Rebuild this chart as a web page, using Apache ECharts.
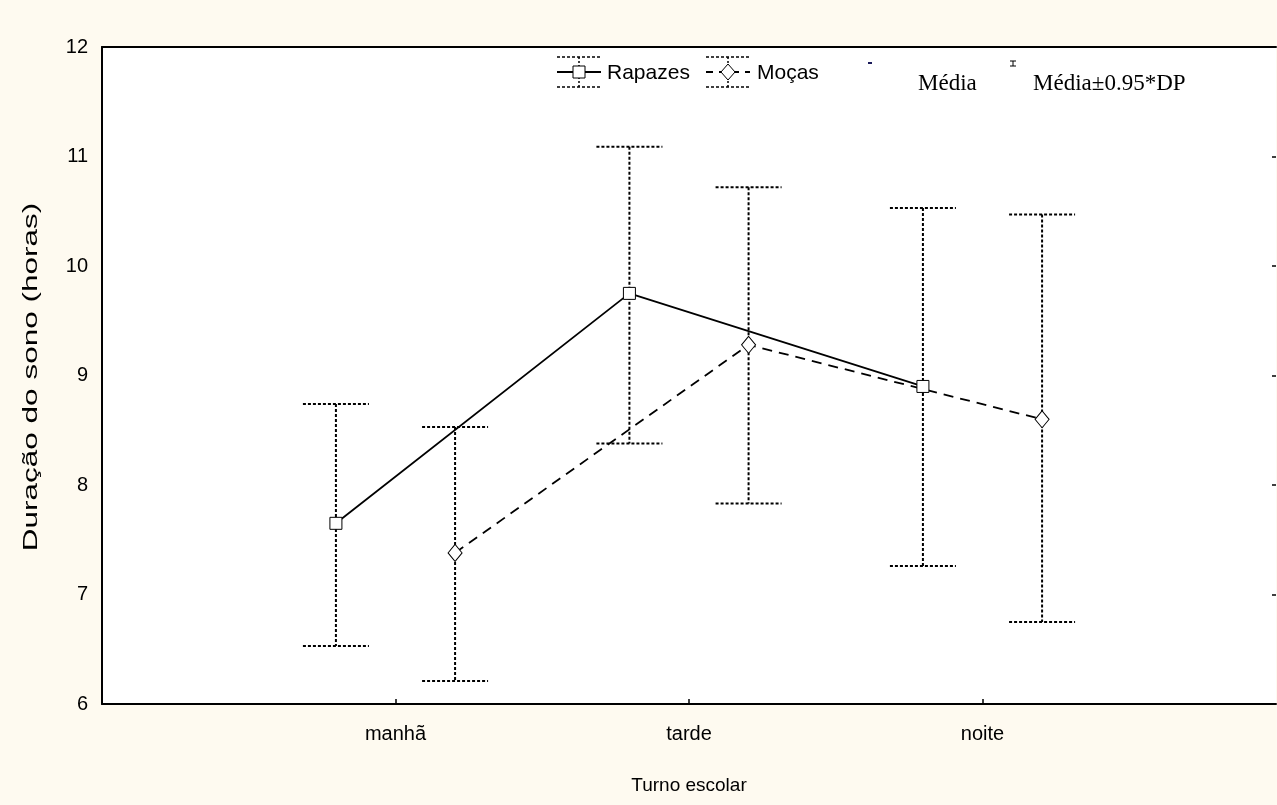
<!DOCTYPE html>
<html>
<head>
<meta charset="utf-8">
<script src="https://cdn.jsdelivr.net/npm/echarts@6/dist/echarts.min.js"></script>
<style>
  html, body { margin: 0; padding: 0; background: #fefaf0; }
  #chart { width: 1277px; height: 805px; }
</style>
</head>
<body>
<div id="chart"></div>
<script>
// Turno escolar categories
const categories = ['manhã', 'tarde', 'noite'];

// Rapazes: média and média ± 0.95*DP
const rapazesMean = [7.65, 9.75, 8.90];
const rapazesLow  = [6.53, 8.38, 7.26];
const rapazesHigh = [8.74, 11.09, 10.53];

// Moças: média and média ± 0.95*DP
const mocasMean = [7.38, 9.28, 8.60];
const mocasLow  = [6.21, 7.83, 6.75];
const mocasHigh = [8.53, 10.72, 10.47];

// Y axis ticks
const yTicks = [6, 7, 8, 9, 10, 11, 12];

// horizontal shift of each group inside its category (axis units)
const OFF_R = -0.203;
const OFF_M = 0.203;

const SANS = '"Liberation Sans", Arial, sans-serif';
const SERIF = '"Liberation Serif", "Times New Roman", serif';

function errorBars(offset) {
  return function (params, api) {
    const i = api.value(0);
    const lo = api.coord([i + offset, api.value(1)]);
    const hi = api.coord([i + offset, api.value(2)]);
    const hw = 33;
    const style = { stroke: '#000', lineWidth: 2, lineDash: [3, 2], fill: null };
    return {
      type: 'group',
      children: [
        { type: 'line', shape: { x1: hi[0], y1: hi[1], x2: lo[0], y2: lo[1] }, style: style },
        { type: 'line', shape: { x1: hi[0] - hw, y1: hi[1], x2: hi[0] + hw, y2: hi[1] }, style: style },
        { type: 'line', shape: { x1: lo[0] - hw, y1: lo[1], x2: lo[0] + hw, y2: lo[1] }, style: style }
      ]
    };
  };
}

const chart = echarts.init(document.getElementById('chart'), null, { renderer: 'canvas' });

const capStyle = { stroke: '#000', lineWidth: 1.5, lineDash: [3, 2] };

// legend and y axis title drawn as graphics
const graphics = [
  // Rapazes icon
  { type: 'line', shape: { x1: 557, y1: 57, x2: 601, y2: 57 }, style: capStyle },
  { type: 'line', shape: { x1: 557, y1: 87, x2: 601, y2: 87 }, style: capStyle },
  { type: 'line', shape: { x1: 579, y1: 57, x2: 579, y2: 87 }, style: { stroke: '#000', lineWidth: 1.5, lineDash: [2, 2] } },
  { type: 'line', shape: { x1: 557, y1: 72, x2: 601, y2: 72 }, style: { stroke: '#000', lineWidth: 1.8 } },
  { type: 'rect', shape: { x: 573, y: 66, width: 12, height: 12 }, style: { fill: '#fff', stroke: '#000', lineWidth: 1 } },
  { type: 'text', x: 607, y: 73, style: { text: 'Rapazes', font: '21px ' + SANS, fill: '#000', verticalAlign: 'middle' } },
  // Moças icon
  { type: 'line', shape: { x1: 706, y1: 57, x2: 750, y2: 57 }, style: capStyle },
  { type: 'line', shape: { x1: 706, y1: 87, x2: 750, y2: 87 }, style: capStyle },
  { type: 'line', shape: { x1: 728, y1: 57, x2: 728, y2: 87 }, style: { stroke: '#000', lineWidth: 1.5, lineDash: [2, 2] } },
  { type: 'line', shape: { x1: 706, y1: 72, x2: 750, y2: 72 }, style: { stroke: '#000', lineWidth: 1.8, lineDash: [7, 6] } },
  { type: 'polygon', shape: { points: [[728, 64], [735, 72], [728, 80], [721, 72]] }, style: { fill: '#fff', stroke: '#000', lineWidth: 1 } },
  { type: 'text', x: 757, y: 73, style: { text: 'Moças', font: '21px ' + SANS, fill: '#000', verticalAlign: 'middle' } },
  // Média
  { type: 'rect', shape: { x: 868, y: 62, width: 4, height: 2 }, style: { fill: '#1a1a5a' } },
  { type: 'text', x: 918, y: 84, style: { text: 'Média', font: '23px ' + SERIF, fill: '#000', verticalAlign: 'middle' } },
  // Média ± 0.95*DP
  { type: 'line', shape: { x1: 1010, y1: 61, x2: 1016, y2: 61 }, style: { stroke: '#000', lineWidth: 1 } },
  { type: 'line', shape: { x1: 1010, y1: 66, x2: 1016, y2: 66 }, style: { stroke: '#000', lineWidth: 1 } },
  { type: 'line', shape: { x1: 1013, y1: 61, x2: 1013, y2: 66 }, style: { stroke: '#000', lineWidth: 1 } },
  { type: 'text', x: 1033, y: 84, style: { text: 'Média±0.95*DP', font: '23px ' + SERIF, fill: '#000', verticalAlign: 'middle' } },
  // y axis title, stretched along its reading direction
  {
    type: 'text', x: 31, y: 377, rotation: Math.PI / 2, scaleX: 1.5, scaleY: 1,
    style: { text: 'Duração do sono (horas)', font: '21px ' + SANS, fill: '#000', align: 'center', verticalAlign: 'middle' }
  }
];

chart.setOption({
  backgroundColor: '#fefaf0',
  animation: false,
  grid: {
    left: 102, right: 1, top: 47, bottom: 101,
    show: true, backgroundColor: '#fff', borderWidth: 0
  },
  xAxis: [
    {
      type: 'value', min: -1, max: 3,
      name: 'Turno escolar', nameLocation: 'middle', nameGap: 72,
      nameTextStyle: { fontFamily: SANS, fontSize: 19, color: '#000' },
      axisLine: { show: true, onZero: false, lineStyle: { color: '#000', width: 2 } },
      axisTick: { show: true, inside: true, length: 5, customValues: [0, 1, 2], lineStyle: { color: '#000', width: 1.5 } },
      axisLabel: {
        customValues: [0, 1, 2], margin: 20,
        formatter: function (v) { return categories[Math.round(v)]; },
        fontFamily: SANS, fontSize: 20, color: '#000'
      },
      splitLine: { show: false }
    },
    {
      type: 'value', min: -1, max: 3, position: 'top',
      axisLine: { show: true, onZero: false, lineStyle: { color: '#000', width: 2 } },
      axisTick: { show: false }, axisLabel: { show: false }, splitLine: { show: false }
    }
  ],
  yAxis: [
    {
      type: 'value', min: yTicks[0], max: yTicks[yTicks.length - 1], interval: 1,
      axisLine: { show: true, onZero: false, lineStyle: { color: '#000', width: 2 } },
      axisTick: { show: false },
      axisLabel: { margin: 14, fontFamily: SANS, fontSize: 20, color: '#000' },
      splitLine: { show: false }
    },
    {
      type: 'value', min: yTicks[0], max: yTicks[yTicks.length - 1], interval: 1, position: 'right',
      axisLine: { show: false, onZero: false },
      axisTick: { show: true, inside: true, length: 4, lineStyle: { color: '#000', width: 1.5 } },
      axisLabel: { show: false }, splitLine: { show: false }
    }
  ],
  graphic: graphics,
  series: [
    {
      name: 'Rapazes DP', type: 'custom', z: 1,
      renderItem: errorBars(OFF_R),
      encode: { x: 0, y: [1, 2] },
      data: categories.map((c, i) => [i, rapazesLow[i], rapazesHigh[i]])
    },
    {
      name: 'Moças DP', type: 'custom', z: 1,
      renderItem: errorBars(OFF_M),
      encode: { x: 0, y: [1, 2] },
      data: categories.map((c, i) => [i, mocasLow[i], mocasHigh[i]])
    },
    {
      name: 'Moças', type: 'line', z: 3,
      data: categories.map((c, i) => [i + OFF_M, mocasMean[i]]),
      lineStyle: { color: '#000', width: 1.8, type: [10, 7] },
      symbol: 'diamond', symbolSize: [14, 17],
      itemStyle: { color: '#fff', borderColor: '#000', borderWidth: 1 }
    },
    {
      name: 'Rapazes', type: 'line', z: 4,
      data: categories.map((c, i) => [i + OFF_R, rapazesMean[i]]),
      lineStyle: { color: '#000', width: 1.8 },
      symbol: 'rect', symbolSize: 12,
      itemStyle: { color: '#fff', borderColor: '#000', borderWidth: 1 }
    }
  ]
});
</script>
</body>
</html>
